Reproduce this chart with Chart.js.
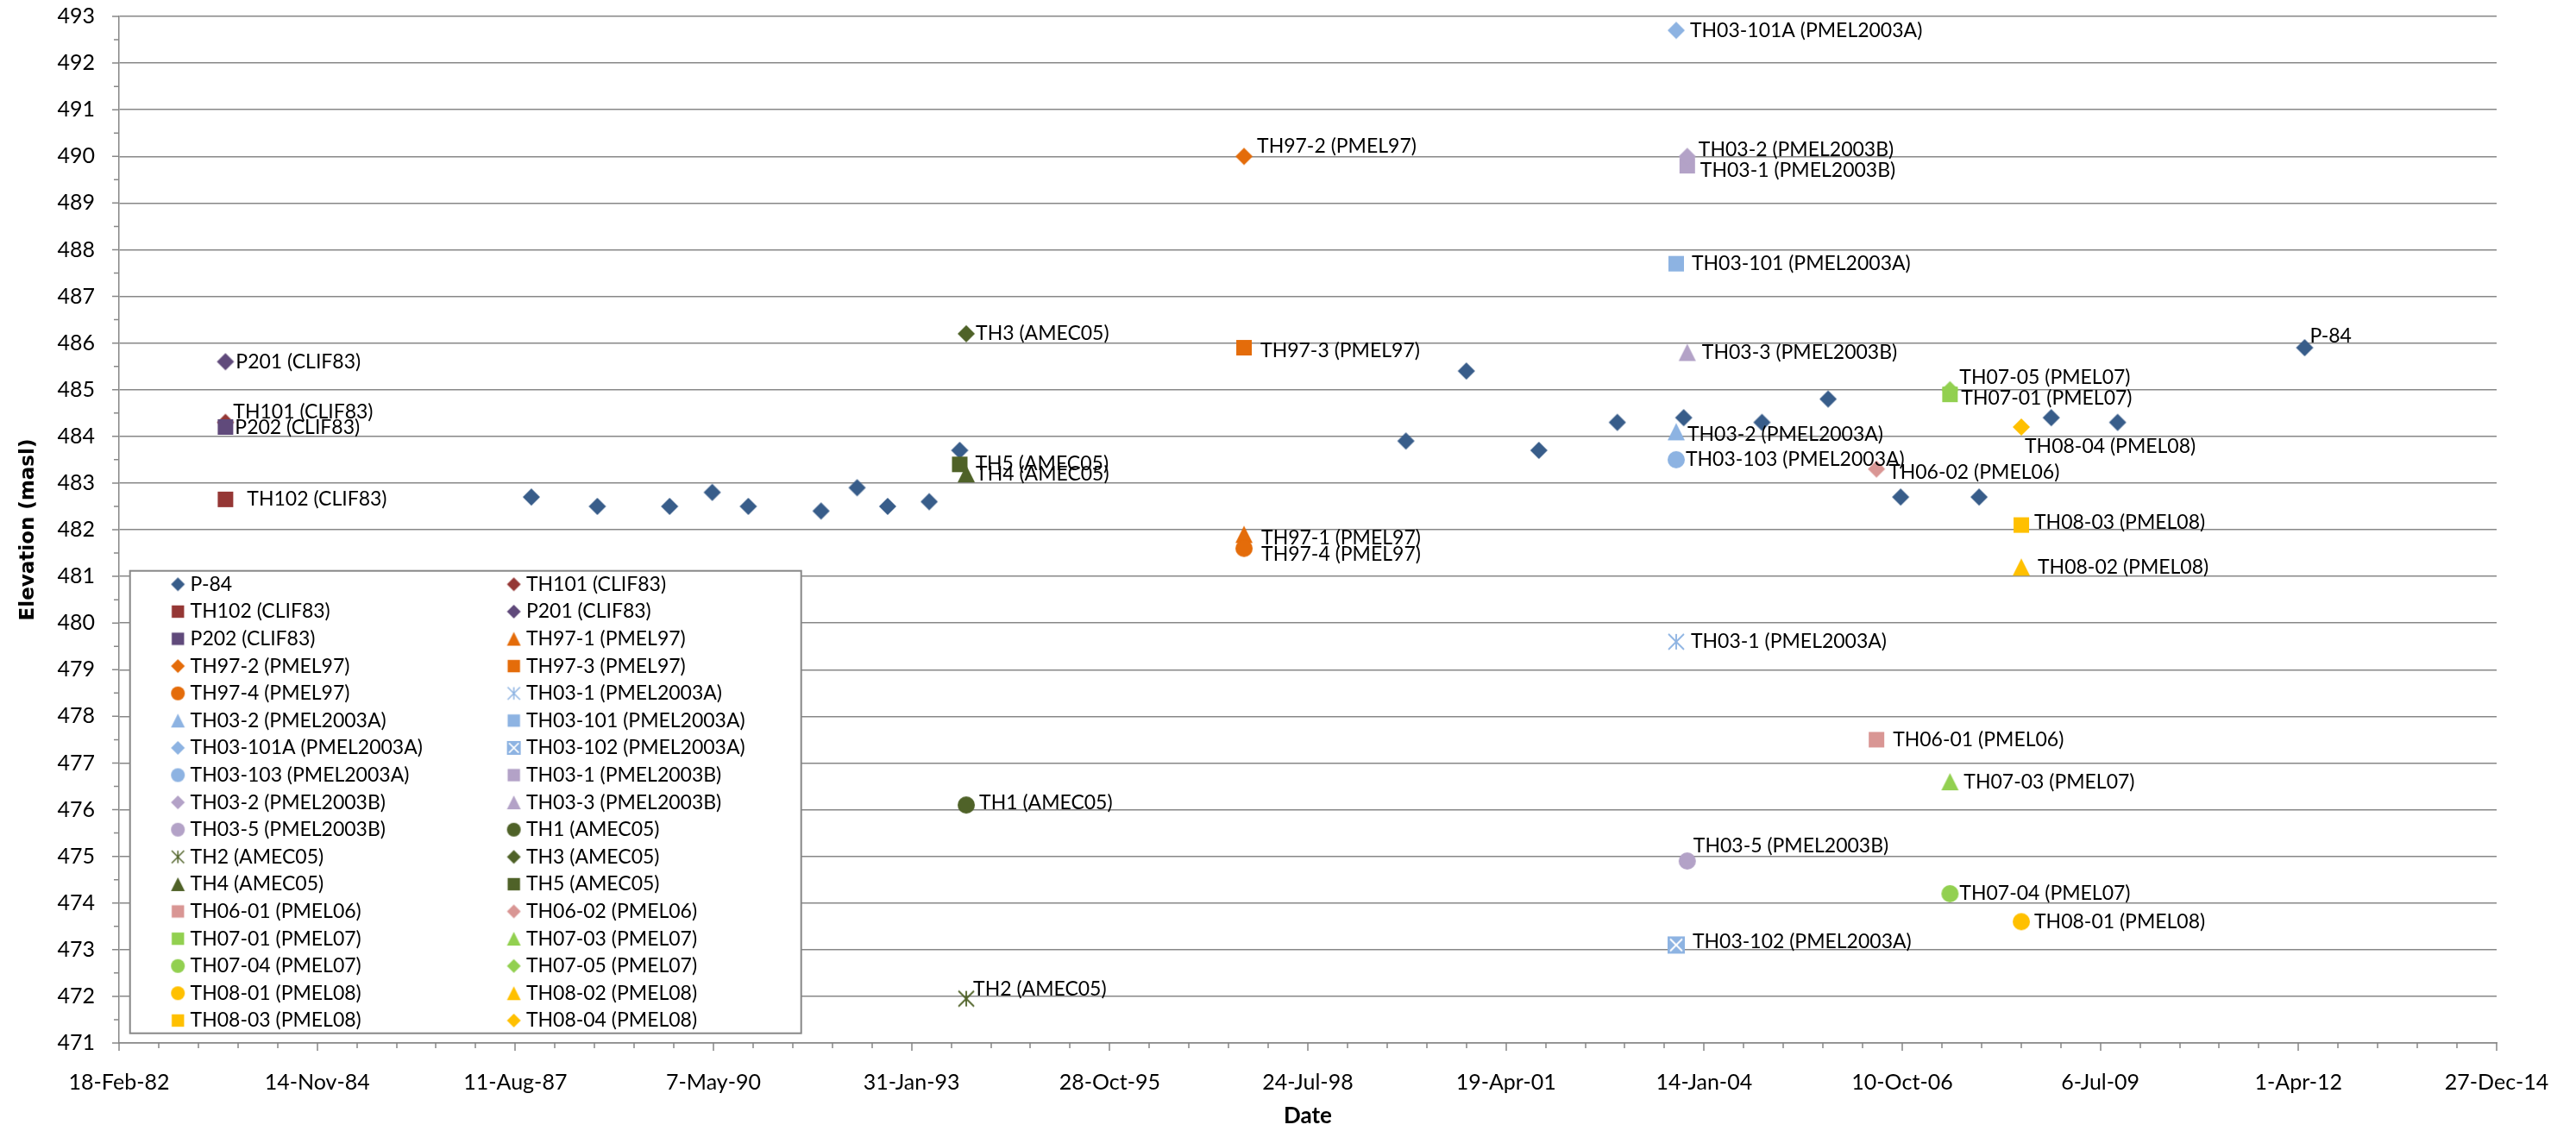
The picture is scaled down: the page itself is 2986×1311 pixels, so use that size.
<!DOCTYPE html>
<html lang="en">
<head>
    <meta charset="UTF-8">
    <title>Groundwater Elevations</title>
    <script src="https://cdn.jsdelivr.net/npm/chart.js"></script>
    <style>
        html, body {
            margin: 0;
            padding: 0;
            background: #ffffff;
        }
        #wrap {
            width: 2986px;
            height: 1311px;
        }
    </style>
</head>
<body>
    <div id="wrap">
        <canvas id="elevationChart" width="2986" height="1311"></canvas>
    </div>

    <script>
        // Series, in legend order
        const seriesNames = [
            'P-84', 'TH101 (CLIF83)', 'TH102 (CLIF83)', 'P201 (CLIF83)', 'P202 (CLIF83)',
            'TH97-1 (PMEL97)', 'TH97-2 (PMEL97)', 'TH97-3 (PMEL97)', 'TH97-4 (PMEL97)',
            'TH03-1 (PMEL2003A)', 'TH03-2 (PMEL2003A)', 'TH03-101 (PMEL2003A)', 'TH03-101A (PMEL2003A)',
            'TH03-102 (PMEL2003A)', 'TH03-103 (PMEL2003A)',
            'TH03-1 (PMEL2003B)', 'TH03-2 (PMEL2003B)', 'TH03-3 (PMEL2003B)', 'TH03-5 (PMEL2003B)',
            'TH1 (AMEC05)', 'TH2 (AMEC05)', 'TH3 (AMEC05)', 'TH4 (AMEC05)', 'TH5 (AMEC05)',
            'TH06-01 (PMEL06)', 'TH06-02 (PMEL06)',
            'TH07-01 (PMEL07)', 'TH07-03 (PMEL07)', 'TH07-04 (PMEL07)', 'TH07-05 (PMEL07)',
            'TH08-01 (PMEL08)', 'TH08-02 (PMEL08)', 'TH08-03 (PMEL08)', 'TH08-04 (PMEL08)'
        ];

        // Measurement dates as spreadsheet day numbers (30000 = 18-Feb-82)
        const seriesDates = [
            [32081, 32414, 32779, 32994, 33176, 33543, 33725, 33879, 34089, 34243, 36495,
             36800, 37166, 37562, 37897, 38292, 38626, 38992, 39388, 39752, 40087, 41031],
            [30537], [30537], [30537], [30537],
            [35678], [35678], [35678], [35678],
            [37859], [37859], [37859], [37859], [37859], [37859],
            [37915], [37915], [37915], [37915],
            [34276], [34276], [34276], [34276], [34243],
            [38870], [38870],
            [39241], [39241], [39241], [39241],
            [39601], [39601], [39601], [39601]
        ];

        // Water level elevations (masl)
        const seriesElevations = [
            [482.7, 482.5, 482.5, 482.8, 482.5, 482.4, 482.9, 482.5, 482.6, 483.7, 483.9,
             485.4, 483.7, 484.3, 484.4, 484.3, 484.8, 482.7, 482.7, 484.4, 484.3, 485.9],
            [484.3], [482.65], [485.6], [484.2],
            [481.9], [490.0], [485.9], [481.6],
            [479.6], [484.1], [487.7], [492.7], [473.1], [483.5],
            [489.8], [490.0], [485.8], [474.9],
            [476.1], [471.95], [486.2], [483.2], [483.4],
            [477.5], [483.3],
            [484.9], [476.6], [474.2], [485.0],
            [473.6], [481.2], [482.1], [484.2]
        ];

        // Axis ranges
        const dateMin = 30000, dateMax = 42000, dateStep = 1000;
        const elevMin = 471, elevMax = 493, elevStep = 1;

        const seriesColors = [
            '#385d8a', '#953735', '#953735', '#604a7b', '#604a7b',
            '#e46c0a', '#e46c0a', '#e46c0a', '#e46c0a',
            '#8db3e2', '#8db3e2', '#8db3e2', '#8db3e2', '#8db3e2', '#8db3e2',
            '#b3a2c7', '#b3a2c7', '#b3a2c7', '#b3a2c7',
            '#4f6228', '#4f6228', '#4f6228', '#4f6228', '#4f6228',
            '#d99694', '#d99694',
            '#92d050', '#92d050', '#92d050', '#92d050',
            '#ffc000', '#ffc000', '#ffc000', '#ffc000'
        ];
        const seriesShapes = [
            'diamond', 'diamond', 'square', 'diamond', 'square',
            'triangle', 'diamond', 'square', 'circle',
            'star', 'triangle', 'square', 'diamond', 'boxX', 'circle',
            'square', 'diamond', 'triangle', 'circle',
            'circle', 'star', 'diamond', 'triangle', 'square',
            'square', 'diamond',
            'square', 'triangle', 'circle', 'diamond',
            'circle', 'triangle', 'square', 'diamond'
        ];

        // Label nudges [dx, dy] in px from the marker centre
        const labelOffsets = [
            [6, -13], [9, -12], [25, 0], [12, 0], [11, 1],
            [20, 4], [15, -12], [19, 4], [20, 7],
            [17, 0], [13, 3], [18, 0], [16, 0], [19, -4], [11, 0],
            [15, 5], [13, -8], [17, 0], [7, -17],
            [15, -3], [8, -11], [11, 0], [11, 0], [18, -1],
            [19, 0], [14, 4],
            [13, 4], [16, 0], [11, 0], [11, -14],
            [15, 0], [19, 0], [15, -3], [4, 23]
        ];

        const MONTHS = ['Jan', 'Feb', 'Mar', 'Apr', 'May', 'Jun', 'Jul', 'Aug', 'Sep', 'Oct', 'Nov', 'Dec'];
        function serialToLabel(n) {
            const d = new Date(Date.UTC(1899, 11, 30) + n * 86400000);
            return d.getUTCDate() + '-' + MONTHS[d.getUTCMonth()] + '-' +
                String(d.getUTCFullYear() % 100).padStart(2, '0');
        }

        const axisGray = '#878787';
        const labelFont = '23px Lato, "Liberation Sans", sans-serif';

        // Excel-like marker bitmaps
        function makeMarker(shape, color, size) {
            const c = document.createElement('canvas');
            c.width = c.height = size + 4;
            const ctx = c.getContext('2d');
            const m = c.width / 2, r = size / 2;
            ctx.fillStyle = color;
            ctx.strokeStyle = color;
            ctx.beginPath();
            switch (shape) {
                case 'diamond':
                    ctx.moveTo(m, m - r);
                    ctx.lineTo(m + r, m);
                    ctx.lineTo(m, m + r);
                    ctx.lineTo(m - r, m);
                    ctx.closePath();
                    ctx.fill();
                    break;
                case 'square': {
                    const s = r * 0.9;
                    ctx.rect(m - s, m - s, 2 * s, 2 * s);
                    ctx.fill();
                    break;
                }
                case 'triangle':
                    ctx.moveTo(m, m - r);
                    ctx.lineTo(m + r, m + r);
                    ctx.lineTo(m - r, m + r);
                    ctx.closePath();
                    ctx.fill();
                    break;
                case 'circle':
                    ctx.arc(m, m, r, 0, Math.PI * 2);
                    ctx.fill();
                    break;
                case 'star': {
                    const s = r * 0.9;
                    ctx.lineWidth = Math.max(1.5, size / 11);
                    ctx.moveTo(m - s, m - s); ctx.lineTo(m + s, m + s);
                    ctx.moveTo(m + s, m - s); ctx.lineTo(m - s, m + s);
                    ctx.moveTo(m, m - s); ctx.lineTo(m, m + s);
                    ctx.stroke();
                    break;
                }
                case 'boxX': {
                    ctx.rect(m - r, m - r, 2 * r, 2 * r);
                    ctx.fill();
                    const s = r * 0.7;
                    ctx.beginPath();
                    ctx.strokeStyle = '#ffffff';
                    ctx.lineWidth = Math.max(1.5, size / 10);
                    ctx.moveTo(m - s, m - s); ctx.lineTo(m + s, m + s);
                    ctx.moveTo(m + s, m - s); ctx.lineTo(m - s, m + s);
                    ctx.stroke();
                    break;
                }
            }
            return c;
        }

        const plotMarkers = seriesShapes.map((s, i) => makeMarker(s, seriesColors[i], 20));
        const legendMarkers = seriesShapes.map((s, i) => makeMarker(s, seriesColors[i], 16));

        // Minor and major tick marks on both axes
        const tickMarks = {
            id: 'tickMarks',
            afterDraw(chart) {
                const {ctx, chartArea: a, scales: {x, y}} = chart;
                ctx.save();
                ctx.strokeStyle = axisGray;
                ctx.lineWidth = 1.5;
                ctx.beginPath();
                for (let v = dateMin; v <= dateMax; v += dateStep / 5) {
                    const px = Math.round(x.getPixelForValue(v));
                    const len = (v - dateMin) % dateStep === 0 ? 9 : 6;
                    ctx.moveTo(px, a.bottom);
                    ctx.lineTo(px, a.bottom + len);
                }
                for (let v = elevMin; v <= elevMax; v += elevStep / 2) {
                    const py = y.getPixelForValue(v);
                    const len = Number.isInteger(v) ? 8 : 6;
                    ctx.moveTo(a.left, py);
                    ctx.lineTo(a.left - len, py);
                }
                ctx.stroke();
                ctx.restore();
            }
        };

        // Series name beside the last point of each series
        const pointLabels = {
            id: 'pointLabels',
            afterDatasetsDraw(chart) {
                const {ctx} = chart;
                ctx.save();
                ctx.font = labelFont;
                ctx.fillStyle = '#000000';
                ctx.textAlign = 'left';
                ctx.textBaseline = 'middle';
                chart.data.datasets.forEach((ds, i) => {
                    const pts = chart.getDatasetMeta(i).data;
                    const p = pts[pts.length - 1];
                    const [dx, dy] = labelOffsets[i];
                    ctx.fillText(ds.label, p.x + dx, p.y + dy);
                });
                ctx.restore();
            }
        };

        // Two-column boxed legend in the lower-left of the plot
        const legendBox = {
            id: 'legendBox',
            afterDatasetsDraw(chart) {
                const {ctx, chartArea: a} = chart;
                const w = 778, h = 536;
                const left = a.left + 12.7;
                const top = a.bottom - 11.3 - h;
                ctx.save();
                ctx.fillStyle = '#ffffff';
                ctx.fillRect(left, top, w, h);
                ctx.strokeStyle = axisGray;
                ctx.lineWidth = 2;
                ctx.strokeRect(left, top, w, h);

                ctx.font = labelFont;
                ctx.fillStyle = '#000000';
                ctx.textAlign = 'left';
                ctx.textBaseline = 'middle';
                const cols = [[55.5, 69.9], [444.9, 459.2]];
                seriesNames.forEach((name, i) => {
                    const row = Math.floor(i / 2);
                    const [mx, tx] = cols[i % 2];
                    const cy = top + 15.6 + row * 31.6;
                    const img = legendMarkers[i];
                    ctx.drawImage(img, left + mx - img.width / 2, cy - img.height / 2);
                    ctx.fillText(name, left + tx, cy);
                });
                ctx.restore();
            }
        };

        const datasets = seriesNames.map((name, i) => ({
            label: name,
            data: seriesDates[i].map((d, j) => ({x: d, y: seriesElevations[i][j]})),
            pointStyle: plotMarkers[i],
            pointRadius: 10,
            showLine: false,
            order: seriesNames.length - i
        }));

        Chart.defaults.font.family = 'Lato, "Liberation Sans", sans-serif';
        Chart.defaults.color = '#000000';

        const ctx = document.getElementById('elevationChart').getContext('2d');
        new Chart(ctx, {
            type: 'scatter',
            data: {datasets},
            plugins: [tickMarks, legendBox, pointLabels],
            options: {
                responsive: false,
                animation: false,
                devicePixelRatio: 1,
                events: [],
                layout: {
                    padding: {top: 19, right: 92, bottom: 0, left: 0}
                },
                plugins: {
                    legend: {display: false},
                    tooltip: {enabled: false}
                },
                scales: {
                    x: {
                        type: 'linear',
                        min: dateMin,
                        max: dateMax,
                        afterFit(scale) {
                            scale.height = 102;
                            scale.paddingLeft = 0;
                            scale.paddingRight = 0;
                        },
                        grid: {display: false},
                        border: {display: true, color: axisGray, width: 1.5},
                        ticks: {
                            stepSize: dateStep,
                            autoSkip: false,
                            maxRotation: 0,
                            padding: 23,
                            font: {size: 25},
                            color: '#000000',
                            callback: (v) => serialToLabel(v)
                        },
                        title: {
                            display: true,
                            text: 'Date',
                            color: '#000000',
                            font: {size: 26, weight: 'bold', lineHeight: 1.2},
                            padding: {top: 0, bottom: 2}
                        }
                    },
                    y: {
                        type: 'linear',
                        min: elevMin,
                        max: elevMax,
                        afterFit(scale) {
                            scale.width = 138;
                            scale.paddingTop = 0;
                            scale.paddingBottom = 0;
                        },
                        grid: {color: axisGray, lineWidth: 1.5, drawTicks: false},
                        border: {display: true, color: axisGray, width: 1.5},
                        ticks: {
                            stepSize: elevStep,
                            padding: 28,
                            font: {size: 25},
                            color: '#000000'
                        },
                        title: {
                            display: true,
                            text: 'Elevation (masl)',
                            color: '#000000',
                            font: {family: '"DejaVu Sans", sans-serif', size: 23, weight: 'bold', lineHeight: 1.2},
                            padding: {top: 19, bottom: 0}
                        }
                    }
                }
            }
        });
    </script>
</body>
</html>
